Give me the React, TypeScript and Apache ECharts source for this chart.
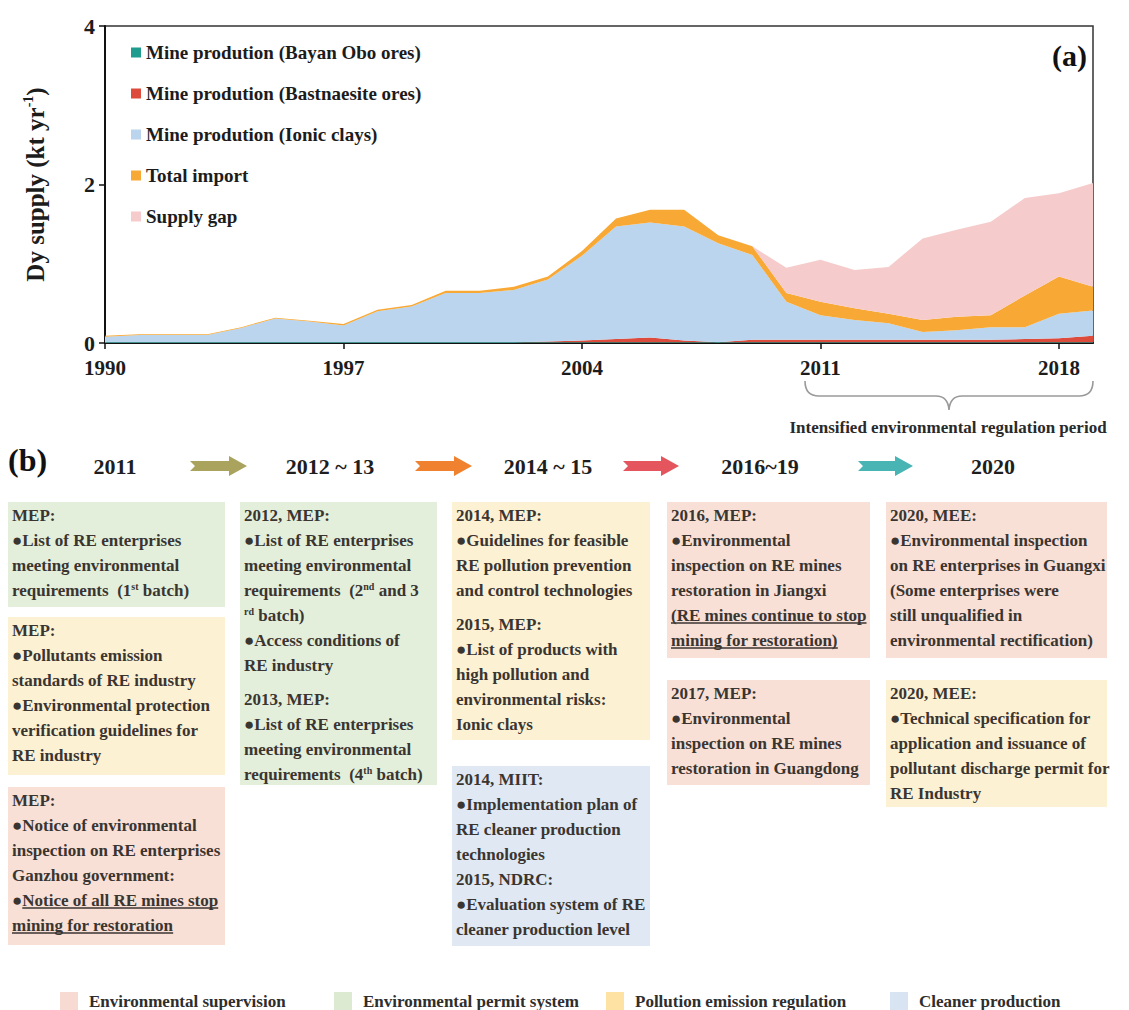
import React, { useEffect, useRef } from "react";
import * as echarts from "echarts";

// ---------- Panel (a) data ----------
const years = [
  "1990", "1991", "1992", "1993", "1994", "1995", "1996", "1997", "1998", "1999",
  "2000", "2001", "2002", "2003", "2004", "2005", "2006", "2007", "2008", "2009",
  "2010", "2011", "2012", "2013", "2014", "2015", "2016", "2017", "2018", "2019",
];
const bayanObo = [
  0.01, 0.01, 0.01, 0.01, 0.01, 0.01, 0.01, 0.01, 0.01, 0.01,
  0.01, 0.01, 0.01, 0.01, 0.01, 0.01, 0.01, 0.01, 0.01, 0.01,
  0.01, 0.01, 0.01, 0.01, 0.01, 0.01, 0.01, 0.01, 0.01, 0.01,
];
const bastnaesite = [
  0, 0, 0, 0, 0, 0, 0, 0, 0, 0,
  0, 0, 0, 0.01, 0.02, 0.04, 0.06, 0.02, 0, 0.03,
  0.03, 0.03, 0.03, 0.03, 0.03, 0.03, 0.03, 0.04, 0.05, 0.08,
];
const ionicClays = [
  0.07, 0.09, 0.09, 0.09, 0.18, 0.3, 0.26, 0.21, 0.39, 0.45,
  0.62, 0.62, 0.66, 0.78, 1.07, 1.42, 1.45, 1.44, 1.25, 1.07,
  0.48, 0.31, 0.25, 0.21, 0.1, 0.12, 0.16, 0.15, 0.31, 0.32,
];
const totalImport = [
  0.01, 0.01, 0.01, 0.01, 0.01, 0.01, 0.01, 0.02, 0.02, 0.02,
  0.03, 0.03, 0.04, 0.04, 0.06, 0.1, 0.16, 0.21, 0.1, 0.11,
  0.11, 0.17, 0.15, 0.12, 0.15, 0.17, 0.15, 0.4, 0.47, 0.3,
];
const supplyGap = [
  0, 0, 0, 0, 0, 0, 0, 0, 0, 0,
  0, 0, 0, 0, 0, 0, 0, 0, 0, 0,
  0.32, 0.53, 0.48, 0.59, 1.03, 1.1, 1.18, 1.23, 1.05, 1.31,
];
const seriesNames = [
  "Mine prodution (Bayan Obo ores)",
  "Mine prodution (Bastnaesite ores)",
  "Mine prodution (Ionic clays)",
  "Total import",
  "Supply gap",
];
const seriesValues = [bayanObo, bastnaesite, ionicClays, totalImport, supplyGap];
const seriesColors = ["#1f9c8d", "#dc4b3c", "#bad5ed", "#f8a935", "#f6cbcb"];
const yMin = 0;
const yMax = 4;
const yInterval = 2;

// ---------- Panel (b) data ----------
const periodLabel = "Intensified environmental regulation period";
const stageLabels = ["2011", "2012 ~ 13", "2014 ~ 15", "2016~19", "2020"];
const categoryNames = [
  "Environmental supervision",
  "Environmental permit system",
  "Pollution emission regulation",
  "Cleaner production",
];
// "__" marks an underlined line; "" inserts a small gap; {s|..} is a superscript
const boxTexts = [
  ["MEP:", "●List of RE enterprises", "meeting environmental", "requirements  (1{s|st} batch)"],
  ["MEP:", "●Pollutants emission", "standards of RE industry", "●Environmental protection", "verification guidelines for", "RE industry"],
  ["MEP:", "●Notice of environmental", "inspection on RE enterprises", "Ganzhou government:", "●__Notice of all RE mines stop", "__mining for restoration"],
  ["2012, MEP:", "●List of RE enterprises", "meeting environmental", "requirements  (2{s|nd} and 3", "{s|rd} batch)", "●Access conditions of", "RE industry", "", "2013, MEP:", "●List of RE enterprises", "meeting environmental", "requirements  (4{s|th} batch)"],
  ["2014, MEP:", "●Guidelines for feasible", "RE pollution prevention", "and control technologies", "", "2015, MEP:", "●List of products with", "high pollution and", "environmental risks:", "Ionic clays"],
  ["2014, MIIT:", "●Implementation plan of", "RE cleaner production", "technologies", "2015, NDRC:", "●Evaluation system of RE", "cleaner production level"],
  ["2016, MEP:", "●Environmental", "inspection on RE mines", "restoration in Jiangxi", "__(RE mines continue to stop", "__mining for restoration)"],
  ["2017, MEP:", "●Environmental", "inspection on RE mines", "restoration in Guangdong"],
  ["2020, MEE:", "●Environmental inspection", "on RE enterprises in Guangxi", "(Some enterprises were", "still unqualified in", "environmental rectification)"],
  ["2020, MEE:", "●Technical specification for", "application and issuance of", "pollutant discharge permit for", "RE Industry"],
];
// category index of each box (0 supervision, 1 permit, 2 pollution, 3 cleaner)
const boxCategory = [1, 2, 0, 1, 2, 3, 0, 0, 0, 2];

const FONT = "'Liberation Serif', 'Times New Roman', serif";

const braceD =
  "M805,381 Q805,396 819,396 L936,396 Q948,396 949,410 Q950,396 962,396 L1079,396 Q1093,396 1093,381";
echarts.graphic.registerShape("brace", echarts.graphic.extendPath(braceD, {}));

let measureCtx: CanvasRenderingContext2D | null = null;
function measure(text: string, font: string): number {
  if (!measureCtx) {
    const c = document.createElement("canvas");
    measureCtx = c.getContext("2d");
  }
  if (!measureCtx) return text.length * 8;
  measureCtx.font = font;
  return measureCtx.measureText(text).width;
}

function buildPanelB(): any[] {
  const els: any[] = [];
  const fillColors = ["#f9e0d7", "#e3efdb", "#fdf1d4", "#dfe8f3"];
  const legendColors = ["#f7dbd2", "#dbead1", "#fde2a4", "#d8e4f2"];
  // box layout: [x, y, w, h]
  const layout = [
    [8, 502, 217, 105],
    [8, 617, 217, 158],
    [8, 787, 217, 158],
    [240, 502, 197, 283],
    [452, 502, 198, 238],
    [452, 766, 198, 180],
    [667, 502, 203, 156],
    [667, 680, 203, 105],
    [886, 502, 221, 156],
    [886, 680, 221, 127],
  ];
  const textFont = 17;
  const lineH = 25;
  const fontStr = `bold ${textFont}px 'Liberation Serif'`;
  boxTexts.forEach((lines, i) => {
    const [x, y, w, h] = layout[i];
    els.push({
      type: "rect",
      shape: { x, y, width: w, height: h },
      style: { fill: fillColors[boxCategory[i]] },
      silent: true,
    });
    let cy = y + 13;
    lines.forEach((raw) => {
      if (raw === "") {
        cy += 9;
        return;
      }
      let prefix = "";
      let body = raw;
      let underline = false;
      if (body.startsWith("●")) {
        prefix = "●";
        body = body.slice(1);
      }
      if (body.startsWith("__")) {
        underline = true;
        body = body.slice(2);
      }
      const full = prefix + body;
      els.push({
        type: "text",
        x: x + 4,
        y: cy,
        silent: true,
        style: {
          text: full,
          fill: "#3a3531",
          fontSize: textFont,
          fontWeight: "bold",
          fontFamily: FONT,
          align: "left",
          verticalAlign: "middle",
          textAlign: "left",
          textVerticalAlign: "middle",
          rich: {
            s: {
              fontSize: 10,
              fontWeight: "bold",
              fontFamily: FONT,
              fill: "#3a3531",
              verticalAlign: "top",
              lineHeight: 10,
              padding: [0, 0, 8, 0],
            },
          },
        },
      });
      if (underline) {
        const pw = prefix ? measure(prefix, fontStr) : 0;
        const bw = measure(body, fontStr);
        els.push({
          type: "line",
          silent: true,
          shape: { x1: x + 4 + pw, y1: cy + 8, x2: x + 4 + pw + bw, y2: cy + 8 },
          style: { stroke: "#3a3531", lineWidth: 1.3 },
        });
      }
      cy += lineH;
    });
  });

  // header row
  els.push({
    type: "text",
    x: 8,
    y: 460,
    style: {
      text: "(b)",
      fill: "#111",
      fontSize: 32,
      fontWeight: "bold",
      fontFamily: FONT,
      align: "left",
      verticalAlign: "middle",
      textAlign: "left",
      textVerticalAlign: "middle",
    },
  });
  const stageX = [115, 330, 548, 760, 993];
  stageLabels.forEach((t, i) => {
    els.push({
      type: "text",
      x: stageX[i],
      y: 466,
      style: {
        text: t,
        fill: "#1e1e1e",
        fontSize: 22,
        fontWeight: "bold",
        fontFamily: FONT,
        align: "center",
        verticalAlign: "middle",
        textAlign: "center",
        textVerticalAlign: "middle",
      },
    });
  });
  const arrows: [number, number, string][] = [
    [190, 247, "#a9a35d"],
    [415, 472, "#f0812e"],
    [623, 679, "#e5555d"],
    [858, 913, "#48b4b3"],
  ];
  arrows.forEach(([x0, x1, c]) => {
    const cy = 466;
    const hx = x1 - 18;
    els.push({
      type: "polygon",
      silent: true,
      shape: {
        points: [
          [x0, cy - 5],
          [hx, cy - 5],
          [hx, cy - 10],
          [x1, cy],
          [hx, cy + 10],
          [hx, cy + 5],
          [x0, cy + 5],
          [x0 + 5, cy],
        ],
      },
      style: { fill: c },
    });
  });

  // brace + period label
  els.push({
    type: "brace",
    x: 0,
    y: 0,
    silent: true,
    style: { stroke: "#9a9a9a", fill: "none", lineWidth: 1.6 },
  });
  els.push({
    type: "text",
    x: 948,
    y: 427,
    style: {
      text: periodLabel,
      fill: "#2a2a2a",
      fontSize: 17,
      fontWeight: "bold",
      fontFamily: FONT,
      align: "center",
      verticalAlign: "middle",
      textAlign: "center",
      textVerticalAlign: "middle",
    },
  });

  // bottom legend
  const legX = [60, 334, 606, 890];
  categoryNames.forEach((name, i) => {
    els.push({
      type: "rect",
      silent: true,
      shape: { x: legX[i], y: 992, width: 18, height: 18 },
      style: { fill: legendColors[i] },
    });
    els.push({
      type: "text",
      x: legX[i] + 29,
      y: 1001,
      style: {
        text: name,
        fill: "#2e2e2e",
        fontSize: 17,
        fontWeight: "bold",
        fontFamily: FONT,
        align: "left",
        verticalAlign: "middle",
        textAlign: "left",
        textVerticalAlign: "middle",
      },
    });
  });

  // panel (a) tag
  els.push({
    type: "text",
    x: 1087,
    y: 55,
    style: {
      text: "(a)",
      fill: "#111",
      fontSize: 30,
      fontWeight: "bold",
      fontFamily: FONT,
      align: "right",
      verticalAlign: "middle",
      textAlign: "right",
      textVerticalAlign: "middle",
    },
  });
  return els;
}

export default function App() {
  const ref = useRef<HTMLDivElement | null>(null);
  useEffect(() => {
    if (!ref.current) return;
    const chart = echarts.init(ref.current, null, { renderer: "svg" });
    const option: any = {
      animation: false,
      backgroundColor: "#ffffff",
      grid: {
        left: 105,
        right: 36,
        top: 26,
        bottom: 667,
        show: true,
        borderColor: "#333",
        borderWidth: 1.5,
        backgroundColor: "transparent",
      },
      legend: {
        orient: "vertical",
        left: 126,
        top: 38,
        itemWidth: 10,
        itemHeight: 10,
        itemGap: 22,
        icon: "rect",
        data: seriesNames,
        textStyle: {
          fontSize: 19,
          lineHeight: 19,
          fontWeight: "bold",
          fontFamily: FONT,
          color: "#1c1c1c",
        },
      },
      xAxis: {
        type: "category",
        data: years,
        boundaryGap: false,
        axisLine: { lineStyle: { color: "#111", width: 2 } },
        axisTick: { show: true, interval: 6, length: 6, lineStyle: { color: "#111", width: 1.5 } },
        axisLabel: {
          interval: 6,
          margin: 14,
          fontSize: 21,
          fontWeight: "bold",
          fontFamily: FONT,
          color: "#1c1c1c",
        },
        splitLine: { show: false },
      },
      yAxis: {
        type: "value",
        min: yMin,
        max: yMax,
        interval: yInterval,
        name: "{t|Dy supply (kt yr}{s|-1}{t|)}",
        nameLocation: "middle",
        nameGap: 56,
        nameRotate: 90,
        nameTextStyle: {
          rich: {
            t: { fontSize: 25, fontWeight: "bold", fontFamily: FONT, color: "#1c1c1c", lineHeight: 28 },
            s: { fontSize: 14, fontWeight: "bold", fontFamily: FONT, color: "#1c1c1c", lineHeight: 14, verticalAlign: "top" },
          },
        },
        axisLine: { show: true, lineStyle: { color: "#111", width: 2 } },
        axisTick: { show: true, length: 6, lineStyle: { color: "#111", width: 1.5 } },
        axisLabel: {
          margin: 10,
          fontSize: 22,
          fontWeight: "bold",
          fontFamily: FONT,
          color: "#1c1c1c",
        },
        splitLine: { show: false },
      },
      series: seriesNames.map((name, i) => ({
        name,
        type: "line",
        stack: "supply",
        data: seriesValues[i],
        symbol: "none",
        smooth: false,
        color: seriesColors[i],
        itemStyle: { color: seriesColors[i] },
        lineStyle: { width: 0, color: seriesColors[i] },
        areaStyle: { color: seriesColors[i], opacity: 1 },
        z: 2,
      })),
      graphic: { elements: buildPanelB() },
    };
    chart.setOption(option);
    return () => chart.dispose();
  }, []);
  return (
    <div
      ref={ref}
      style={{ position: "absolute", left: 0, top: 0, width: 1129, height: 1010, background: "#fff" }}
    />
  );
}
